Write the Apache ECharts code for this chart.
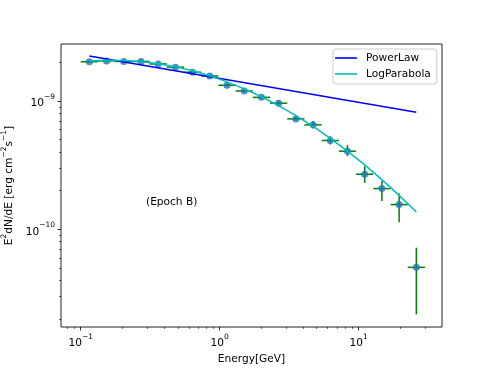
<!DOCTYPE html>
<html>
<head>
<meta charset="utf-8">
<script src="https://cdn.jsdelivr.net/npm/echarts@6/dist/echarts.min.js"></script>
<style>
  html, body { margin: 0; padding: 0; background: #fff; }
  #chart { width: 490px; height: 368px; }
</style>
</head>
<body>
<div id="chart"></div>
<script>
// 能谱数据点 (bin centre, GeV)
const energy = [0.1153, 0.1534, 0.2041, 0.2715, 0.3611, 0.4804, 0.6390, 0.8500, 1.1304, 1.5035,
  2.000, 2.660, 3.539, 4.707, 6.261, 8.328, 11.08, 14.73, 19.60, 26.07]
const energyLow = [0.1, 0.1330, 0.1769, 0.2352, 0.3130, 0.4164, 0.5538, 0.7367, 0.9800, 1.3035,
  1.7338, 2.3067, 3.0675, 4.0810, 5.4277, 7.2211, 9.603, 12.77, 16.99, 22.60]
const energyHigh = [0.1330, 0.1769, 0.2352, 0.3130, 0.4164, 0.5538, 0.7367, 0.9800, 1.3035, 1.7338,
  2.3067, 3.0675, 4.0810, 5.4277, 7.2211, 9.603, 12.77, 16.99, 22.60, 30.06]
// E^2 dN/dE [erg cm^-2 s^-1]
const flux = [2.03e-9, 2.06e-9, 2.04e-9, 2.04e-9, 1.95e-9, 1.84e-9, 1.68e-9, 1.57e-9, 1.33e-9, 1.20e-9,
  1.07e-9, 9.64e-10, 7.27e-10, 6.53e-10, 4.93e-10, 4.07e-10, 2.69e-10, 2.08e-10, 1.56e-10, 5.05e-11]
const fluxLow = [1.99e-9, 2.02e-9, 2.00e-9, 2.00e-9, 1.91e-9, 1.80e-9, 1.64e-9, 1.52e-9, 1.29e-9, 1.16e-9,
  1.03e-9, 9.1e-10, 7.05e-10, 6.12e-10, 4.59e-10, 3.72e-10, 2.30e-10, 1.66e-10, 1.135e-10, 2.17e-11]
const fluxHigh = [2.07e-9, 2.10e-9, 2.08e-9, 2.08e-9, 1.99e-9, 1.88e-9, 1.72e-9, 1.62e-9, 1.37e-9, 1.24e-9,
  1.11e-9, 1.02e-9, 7.57e-10, 7.01e-10, 5.33e-10, 4.53e-10, 3.10e-10, 2.38e-10, 1.90e-10, 7.19e-11]

// 模型曲线
const powerLawEnergy = [0.1153, 26.07]
const powerLawFlux = [2.25e-9, 8.2e-10]
const logParabolaFlux = [2.053e-9, 2.083e-9, 2.077e-9, 2.035e-9, 1.959e-9, 1.854e-9, 1.723e-9, 1.575e-9, 1.413e-9, 1.247e-9,
  1.081e-9, 9.21e-10, 7.71e-10, 6.35e-10, 5.13e-10, 4.07e-10, 3.18e-10, 2.44e-10, 1.84e-10, 1.364e-10]

// 刻度
const xMajor = [0.1, 1, 10]
const xMinor = [0.08, 0.09, 0.2, 0.3, 0.4, 0.5, 0.6, 0.7, 0.8, 0.9, 2, 3, 4, 5, 6, 7, 8, 9, 20, 30]
const yMajor = [1e-10, 1e-9]
const yMinor = [2e-11, 3e-11, 4e-11, 5e-11, 6e-11, 7e-11, 8e-11, 9e-11,
  2e-10, 3e-10, 4e-10, 5e-10, 6e-10, 7e-10, 8e-10, 9e-10, 2e-9]

const FONT = 'DejaVu Sans'
const xMin = 0.0721
const xMax = 39.9
const yMin = 1.73e-11
const yMax = 2.79e-9

const chart = echarts.init(document.getElementById('chart'))

const powerLabel = (value) => {
  const exp = Math.round(Math.log10(value))
  const sup = exp < 0 ? '\u2212' + (-exp) : String(exp)
  return '{b|10}{s|' + sup + '}'
}

const labelRich = {
  b: { fontSize: 10.6, fontFamily: FONT, color: '#000', lineHeight: 16, verticalAlign: 'bottom' },
  s: { fontSize: 7.5, fontFamily: FONT, color: '#000', lineHeight: 9, verticalAlign: 'top' }
}

const points = energy.map((e, i) => [e, flux[i], energyLow[i], energyHigh[i], fluxLow[i], fluxHigh[i]])

const renderErrorBar = (params, api) => {
  const e = api.value(0)
  const f = api.value(1)
  const left = api.coord([api.value(2), f])
  const right = api.coord([api.value(3), f])
  const bottom = api.coord([e, api.value(4)])
  const top = api.coord([e, api.value(5)])
  const style = { stroke: '#008000', lineWidth: 1.5 }
  return {
    type: 'group',
    children: [
      { type: 'line', shape: { x1: left[0], y1: left[1], x2: right[0], y2: right[1] }, style },
      { type: 'line', shape: { x1: bottom[0], y1: bottom[1], x2: top[0], y2: top[1] }, style }
    ]
  }
}

const baseAxis = {
  type: 'log',
  logBase: 10,
  splitLine: { show: false },
  axisLine: { show: false }
}

const option = {
  animation: false,
  grid: {
    left: 61, top: 44, right: 48, bottom: 41,
    outerBoundsMode: 'none',
    containLabel: false,
    show: true, borderColor: '#222', borderWidth: 1, backgroundColor: '#fff'
  },
  legend: {
    orient: 'vertical',
    left: 333, top: 49,
    data: ['PowerLaw', 'LogParabola'],
    icon: 'rect',
    itemWidth: 22, itemHeight: 1.6, itemGap: 2,
    padding: [2, 6, 3, 2],
    backgroundColor: 'rgba(255,255,255,0.8)',
    borderColor: '#cccccc', borderWidth: 1, borderRadius: 3,
    textStyle: { fontFamily: FONT, fontSize: 10.6, color: '#000', lineHeight: 14, padding: [0, 0, 0, 4] }
  },
  xAxis: [
    {
      ...baseAxis,
      min: xMin, max: xMax,
      name: 'Energy[GeV]',
      nameLocation: 'middle', nameGap: 25,
      nameTextStyle: { fontFamily: FONT, fontSize: 10.6, color: '#000' },
      axisTick: { length: 3.5, lineStyle: { color: '#000', width: 0.8 }, customValues: xMajor },
      axisLabel: { customValues: xMajor, margin: 6, formatter: powerLabel, rich: labelRich }
    },
    {
      ...baseAxis,
      position: 'bottom',
      min: xMin, max: xMax,
      axisTick: { length: 2, lineStyle: { color: '#000', width: 0.6 }, customValues: xMinor },
      axisLabel: { show: false }
    }
  ],
  yAxis: [
    {
      ...baseAxis,
      min: yMin, max: yMax,
      name: '{n|E}{s|2}{n|dN/dE [erg cm}{s|\u22122}{n|s}{s|\u22121}{n|]}',
      nameLocation: 'middle', nameGap: 40,
      nameTextStyle: {
        rich: {
          n: { fontFamily: FONT, fontSize: 10.6, color: '#000', lineHeight: 15, verticalAlign: 'bottom' },
          s: { fontFamily: FONT, fontSize: 7.5, color: '#000', lineHeight: 9, verticalAlign: 'top' }
        }
      },
      axisTick: { length: 3.5, lineStyle: { color: '#000', width: 0.8 }, customValues: yMajor },
      axisLabel: { customValues: yMajor, margin: 6, formatter: powerLabel, rich: labelRich }
    },
    {
      ...baseAxis,
      position: 'left',
      min: yMin, max: yMax,
      axisTick: { length: 2, lineStyle: { color: '#000', width: 0.6 }, customValues: yMinor },
      axisLabel: { show: false }
    }
  ],
  graphic: [
    {
      type: 'text', left: 146, top: 197,
      style: { text: '(Epoch B)', fontFamily: FONT, fontSize: 10.6, fill: '#000' }
    }
  ],
  series: [
    {
      name: 'errors',
      type: 'custom',
      data: points,
      renderItem: renderErrorBar,
      encode: { x: 0, y: 1 },
      z: 2
    },
    {
      name: 'data',
      type: 'scatter',
      data: points.map(p => [p[0], p[1]]),
      symbolSize: 7,
      itemStyle: { color: '#1f77b4', opacity: 0.8 },
      z: 3
    },
    {
      name: 'PowerLaw',
      type: 'line',
      data: powerLawEnergy.map((e, i) => [e, powerLawFlux[i]]),
      showSymbol: false,
      lineStyle: { color: '#0000ff', width: 1.5 },
      itemStyle: { color: '#0000ff' },
      z: 4
    },
    {
      name: 'LogParabola',
      type: 'line',
      data: energy.map((e, i) => [e, logParabolaFlux[i]]),
      showSymbol: false,
      smooth: false,
      lineStyle: { color: '#00bfbf', width: 1.5 },
      itemStyle: { color: '#00bfbf' },
      z: 4
    }
  ]
}

chart.setOption(option)
</script>
</body>
</html>
